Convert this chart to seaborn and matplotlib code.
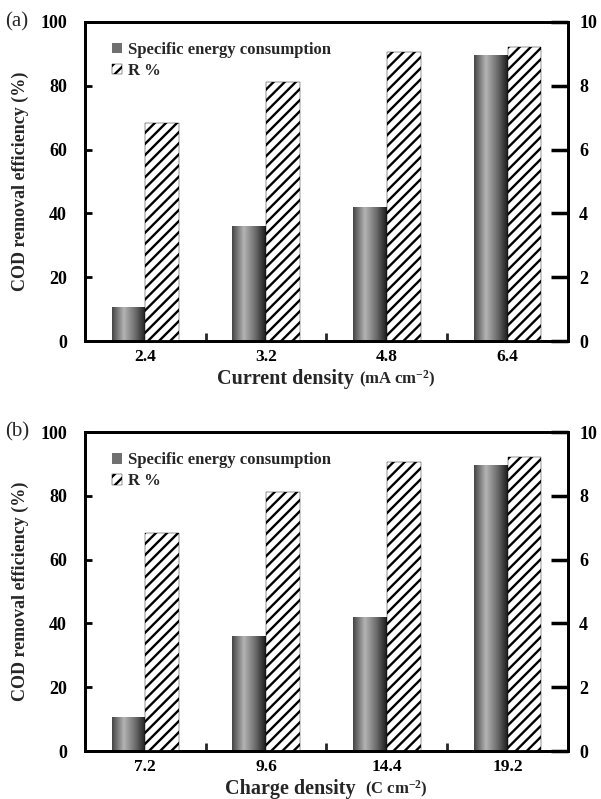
import numpy as np
import pandas as pd
import matplotlib
matplotlib.use("Agg")
import matplotlib.pyplot as plt
from matplotlib.colors import LinearSegmentedColormap
from matplotlib.patches import Patch
import seaborn as sns

# ---- data ----
current_density = ['2.4', '3.2', '4.8', '6.4']
charge_density = ['7.2', '9.6', '14.4', '19.2']
energy_consumption = [1.06, 3.61, 4.21, 8.97]   # right axis
cod_removal = [68.3, 81.3, 90.7, 92.1]          # left axis (%)
series_names = ['Specific energy consumption', 'R %']
left_ticks = [0, 20, 40, 60, 80, 100]
right_ticks = [0, 2, 4, 6, 8, 10]

sns.set_theme(style="white")
plt.rcParams['font.family'] = ['Liberation Serif', 'DejaVu Serif']
plt.rcParams['font.weight'] = 'bold'
plt.rcParams['mathtext.fontset'] = 'custom'
plt.rcParams['mathtext.rm'] = 'Liberation Serif:bold'
plt.rcParams['mathtext.it'] = 'Liberation Serif:bold'
plt.rcParams['mathtext.bf'] = 'Liberation Serif:bold'
plt.rcParams['hatch.linewidth'] = 1.7
plt.rcParams['hatch.color'] = 'black'

grad_cmap = LinearSegmentedColormap.from_list(
    'cyl', [(0.0, '#444444'), (0.35, '#b4b4b4'), (0.7, '#6a6a6a'), (1.0, '#1a1a1a')])

fig = plt.figure(figsize=(6.01, 7.99), dpi=100)
axes_pos = [[0.1414, 0.5732, 0.8036, 0.3993], [0.1414, 0.0600, 0.8036, 0.3993]]
panels = [('(a)', current_density, 'Current density ', '(mA cm$^{-2}$)'),
          ('(b)', charge_density, 'Charge density  ', '(C cm$^{-2}$)')]

for pos, (tag, cats, xlab_main, xlab_unit) in zip(axes_pos, panels):
    ax = fig.add_axes(pos)
    ax2 = ax.twinx()
    df = pd.DataFrame({
        'cat': cats * 2,
        'series': [series_names[0]] * 4 + [series_names[1]] * 4,
        'value': energy_consumption + cod_removal,
    })
    # hatched R % bars on left axis
    sns.barplot(data=df[df.series == series_names[1]], x='cat', y='value', hue='series',
                hue_order=series_names, order=cats, dodge=True, width=0.56,
                ax=ax, legend=False, errorbar=None, saturation=1,
                palette={series_names[0]: 'white', series_names[1]: 'white'})
    for p in ax.patches:
        p.set_hatch('///')
        p.set_edgecolor('black')
        p.set_linewidth(0.3)
    # gradient energy bars on right axis
    sns.barplot(data=df[df.series == series_names[0]], x='cat', y='value', hue='series',
                hue_order=series_names, order=cats, dodge=True, width=0.56,
                ax=ax2, legend=False, errorbar=None, saturation=1,
                palette={series_names[0]: '#707070', series_names[1]: 'white'})
    ax2.set_ylim(0, 10)
    ax.set_ylim(0, 100)
    ax.set_xlim(-0.5, 3.5)
    grad = np.linspace(0, 1, 256).reshape(1, -1)
    for p in list(ax2.patches):
        x0, y0 = p.get_x(), p.get_y()
        w, h = p.get_width(), p.get_height()
        im = ax2.imshow(grad, cmap=grad_cmap, extent=[x0, x0 + w, y0, y0 + h],
                        aspect='auto', zorder=p.get_zorder(), interpolation='bilinear')
        im.set_clip_path(p)
        p.set_facecolor('none')
        p.set_edgecolor('none')
    ax2.set_xlim(-0.5, 3.5)
    ax2.set_ylim(0, 10)

    # axes styling
    for a in (ax, ax2):
        for s in a.spines.values():
            s.set_linewidth(2)
            s.set_color('black')
    ax.set_yticks(left_ticks)
    ax.set_yticklabels([str(t) for t in left_ticks], fontsize=13, fontweight='bold')
    ax2.set_yticks(right_ticks)
    ax2.set_yticklabels([str(t) for t in right_ticks], fontsize=13, fontweight='bold')
    ax.tick_params(axis='y', direction='in', length=5, width=2, pad=13, colors='black')
    ax2.tick_params(axis='y', direction='in', length=12, width=2.5, pad=8, colors='black')
    ax.set_xticks(range(4))
    ax.set_xticklabels(cats, fontsize=12.5, fontweight='bold')
    ax.tick_params(axis='x', length=0, pad=6, colors='black')
    ax.set_xticks([0.5, 1.5, 2.5], minor=True)
    ax.tick_params(axis='x', which='minor', direction='in', length=6, width=2, bottom=True)
    ax2.tick_params(axis='x', length=0)
    ax.set_xlabel('')
    ax.set_ylabel('COD removal efficiency (%)', fontsize=13, fontweight='bold', labelpad=8)
    ax2.set_ylabel('')

    # x-axis label: main part plus smaller unit part
    ylab = pos[1] - 43 / 799
    t1 = fig.text(0.5, ylab, xlab_main, fontsize=14.5, fontweight='bold',
                  ha='right', va='baseline')
    t2 = fig.text(0.5, ylab, xlab_unit, fontsize=12, fontweight='bold',
                  ha='left', va='baseline')
    fig.canvas.draw()
    r = fig.canvas.get_renderer()
    w1 = t1.get_window_extent(r).width / fig.bbox.width
    w2 = t2.get_window_extent(r).width / fig.bbox.width
    cx = pos[0] + pos[2] / 2
    start = cx - (w1 + w2) / 2
    t1.set_ha('left')
    t1.set_x(start)
    t2.set_x(start + w1)

    handles = [Patch(facecolor='#707070', edgecolor='none'),
               Patch(facecolor='white', edgecolor='black', hatch='///', linewidth=0.3)]
    leg = ax.legend(handles, series_names, loc='upper left', bbox_to_anchor=(0.042, 0.958),
                    frameon=False, fontsize=12, handlelength=0.6, handleheight=0.6,
                    handletextpad=0.35, labelspacing=0.3, borderaxespad=0)
    for t in leg.get_texts():
        t.set_fontweight('bold')
    ax.set_zorder(ax2.get_zorder() + 1)
    ax.patch.set_visible(False)
    fig.text(0.008, pos[1] + pos[3], tag, fontsize=15, fontweight='normal',
             va='center', ha='left')

fig.savefig('out.png', dpi=100)
